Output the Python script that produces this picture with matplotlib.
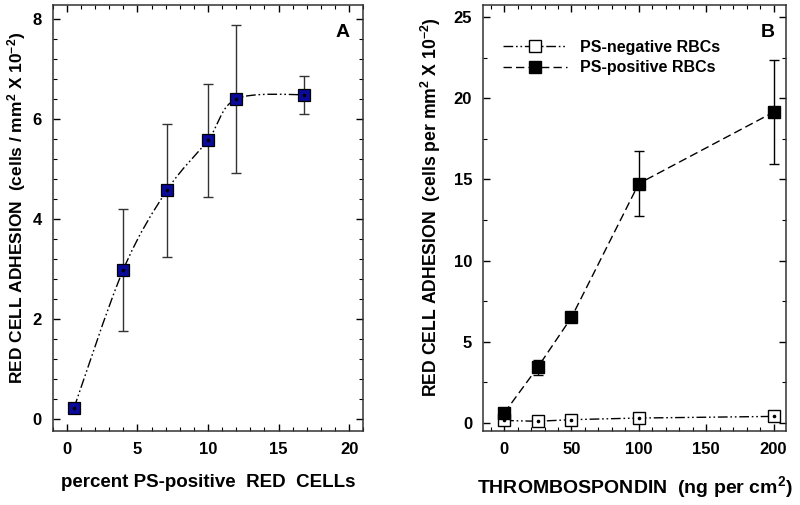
import matplotlib
matplotlib.use("Agg")
import matplotlib.pyplot as plt
import numpy as np
from matplotlib.path import Path
from matplotlib.patches import PathPatch
from matplotlib.ticker import MultipleLocator

plt.rcParams.update({
    "font.family": "Liberation Sans",
    "font.weight": "bold",
    "axes.labelweight": "bold",
    "font.size": 12,
    "axes.linewidth": 1.1,
    "axes.edgecolor": "#333333",
    "xtick.direction": "in", "ytick.direction": "in",
    "xtick.top": True, "ytick.right": True,
    "xtick.major.size": 5, "ytick.major.size": 5,
    "xtick.minor.size": 3, "ytick.minor.size": 3,
    "xtick.major.width": 1.0, "ytick.major.width": 1.0,
    "xtick.minor.width": 0.8, "ytick.minor.width": 0.8,
    "xtick.major.pad": 8, "ytick.major.pad": 8,
    "mathtext.fontset": "custom",
    "mathtext.rm": "Liberation Sans:bold",
    "mathtext.bf": "Liberation Sans:bold",
    "mathtext.default": "bf",
})

# panel A: adhesion vs percent PS-positive red cells
pct_ps = [0.5, 4.0, 7.1, 10.0, 12.0, 16.8]
adh_a = [0.21, 2.98, 4.57, 5.57, 6.39, 6.48]
err_a = [0.0, 1.22, 1.33, 1.13, 1.48, 0.38]

# panel B: adhesion vs thrombospondin
tsp = [0, 25, 50, 100, 200]
ps_neg = [0.15, 0.1, 0.2, 0.3, 0.4]
ps_pos = [0.6, 3.43, 6.5, 14.75, 19.15]
err_pos = [0.0, 0.45, 0.3, 1.98, 3.2]

DASHDOTDOT = (0, (7, 2, 1.2, 2, 1.2, 2))
BLUE = "#0a0a9a"


def smooth_path(x, y):
    """Catmull-Rom curve through the points, as cubic bezier segments."""
    x = np.asarray(x, float); y = np.asarray(y, float)
    px = np.r_[x[0], x, x[-1]]; py = np.r_[y[0], y, y[-1]]
    verts = [(x[0], y[0])]; codes = [Path.MOVETO]
    for i in range(1, len(px) - 2):
        c1 = (px[i] + (px[i + 1] - px[i - 1]) / 6, py[i] + (py[i + 1] - py[i - 1]) / 6)
        c2 = (px[i + 1] - (px[i + 2] - px[i]) / 6, py[i + 1] - (py[i + 2] - py[i]) / 6)
        verts += [c1, c2, (px[i + 1], py[i + 1])]
        codes += [Path.CURVE4] * 3
    return Path(verts, codes)


fig = plt.figure(figsize=(8, 5.05), dpi=100)
axA = fig.add_axes([0.066, 0.1465, 0.388, 0.8435])
axB = fig.add_axes([0.604, 0.1465, 0.379, 0.8435])

# --- A ---
axA.add_patch(PathPatch(smooth_path(pct_ps, adh_a), fill=False, lw=1.0,
                        color="black", ls=DASHDOTDOT, zorder=2))
axA.errorbar(pct_ps, adh_a, yerr=err_a, fmt="none", ecolor="#333333",
             elinewidth=1.0, capsize=3.5, capthick=1.0, zorder=3)
axA.plot(pct_ps, adh_a, ls="none", marker="s", ms=8, mfc=BLUE, mec="black",
         mew=0.9, zorder=4)
axA.plot(pct_ps, adh_a, ls="none", marker="o", ms=1.6, color="black", zorder=5)
axA.set_xlim(-1, 21)
axA.set_ylim(-0.25, 8.27)
axA.xaxis.set_major_locator(MultipleLocator(5))
axA.xaxis.set_minor_locator(MultipleLocator(1))
axA.yaxis.set_major_locator(MultipleLocator(2))
axA.yaxis.set_minor_locator(MultipleLocator(0.4))
axA.set_xlabel("percent PS-positive  RED  CELLs", fontsize=13.5)
axA.xaxis.set_label_coords(0.5, -0.1)
axA.set_ylabel(r"RED CELL ADHESION  (cells / mm$^2$ X 10$^{-2}$)", fontsize=12.5)
axA.yaxis.set_label_coords(-0.08, 0.525)
axA.text(0.955, 0.955, "A", transform=axA.transAxes, ha="right", va="top",
         fontsize=14, fontweight="bold")

# --- B ---
axB.plot(tsp, ps_neg, ls=DASHDOTDOT, lw=1.0, color="black", marker="s", ms=8,
         mfc="white", mec="black", mew=1.0, label="PS-negative RBCs", zorder=3)
axB.plot(tsp, ps_neg, ls="none", marker="o", ms=1.6, color="black", zorder=4)
axB.errorbar(tsp, ps_pos, yerr=err_pos, fmt="none", ecolor="black",
             elinewidth=1.0, capsize=3.5, capthick=1.0, zorder=2)
axB.plot(tsp, ps_pos, ls=(0, (6, 3)), lw=1.0, color="black", marker="s", ms=8,
         mfc="black", mec="black", label="PS-positive RBCs", zorder=3)
axB.set_xlim(-15.5, 209.5)
axB.set_ylim(-0.5, 25.75)
axB.xaxis.set_major_locator(MultipleLocator(50))
axB.xaxis.set_minor_locator(MultipleLocator(10))
axB.yaxis.set_major_locator(MultipleLocator(5))
axB.yaxis.set_minor_locator(MultipleLocator(2.5))
axB.set_xlabel("THROMBOSPONDIN  (ng per cm$\\mathregular{^{2}}$)", fontsize=14)
axB.xaxis.set_label_coords(0.5, -0.1)
axB.set_ylabel(r"RED CELL ADHESION  (cells per mm$^2$ X 10$^{-2}$)", fontsize=12.7)
axB.yaxis.set_label_coords(-0.133, 0.525)
axB.text(0.96, 0.955, "B", transform=axB.transAxes, ha="right", va="top",
         fontsize=14, fontweight="bold")
axB.legend(loc="upper left", bbox_to_anchor=(0.03, 0.945), frameon=False,
           handlelength=4.0, fontsize=11.5, borderaxespad=0.3, labelspacing=0.35)

for ax in (axA, axB):
    ax.tick_params(labelsize=12)
    for lab in ax.get_xticklabels() + ax.get_yticklabels():
        lab.set_fontweight("bold")

fig.savefig("out.png", dpi=100)
